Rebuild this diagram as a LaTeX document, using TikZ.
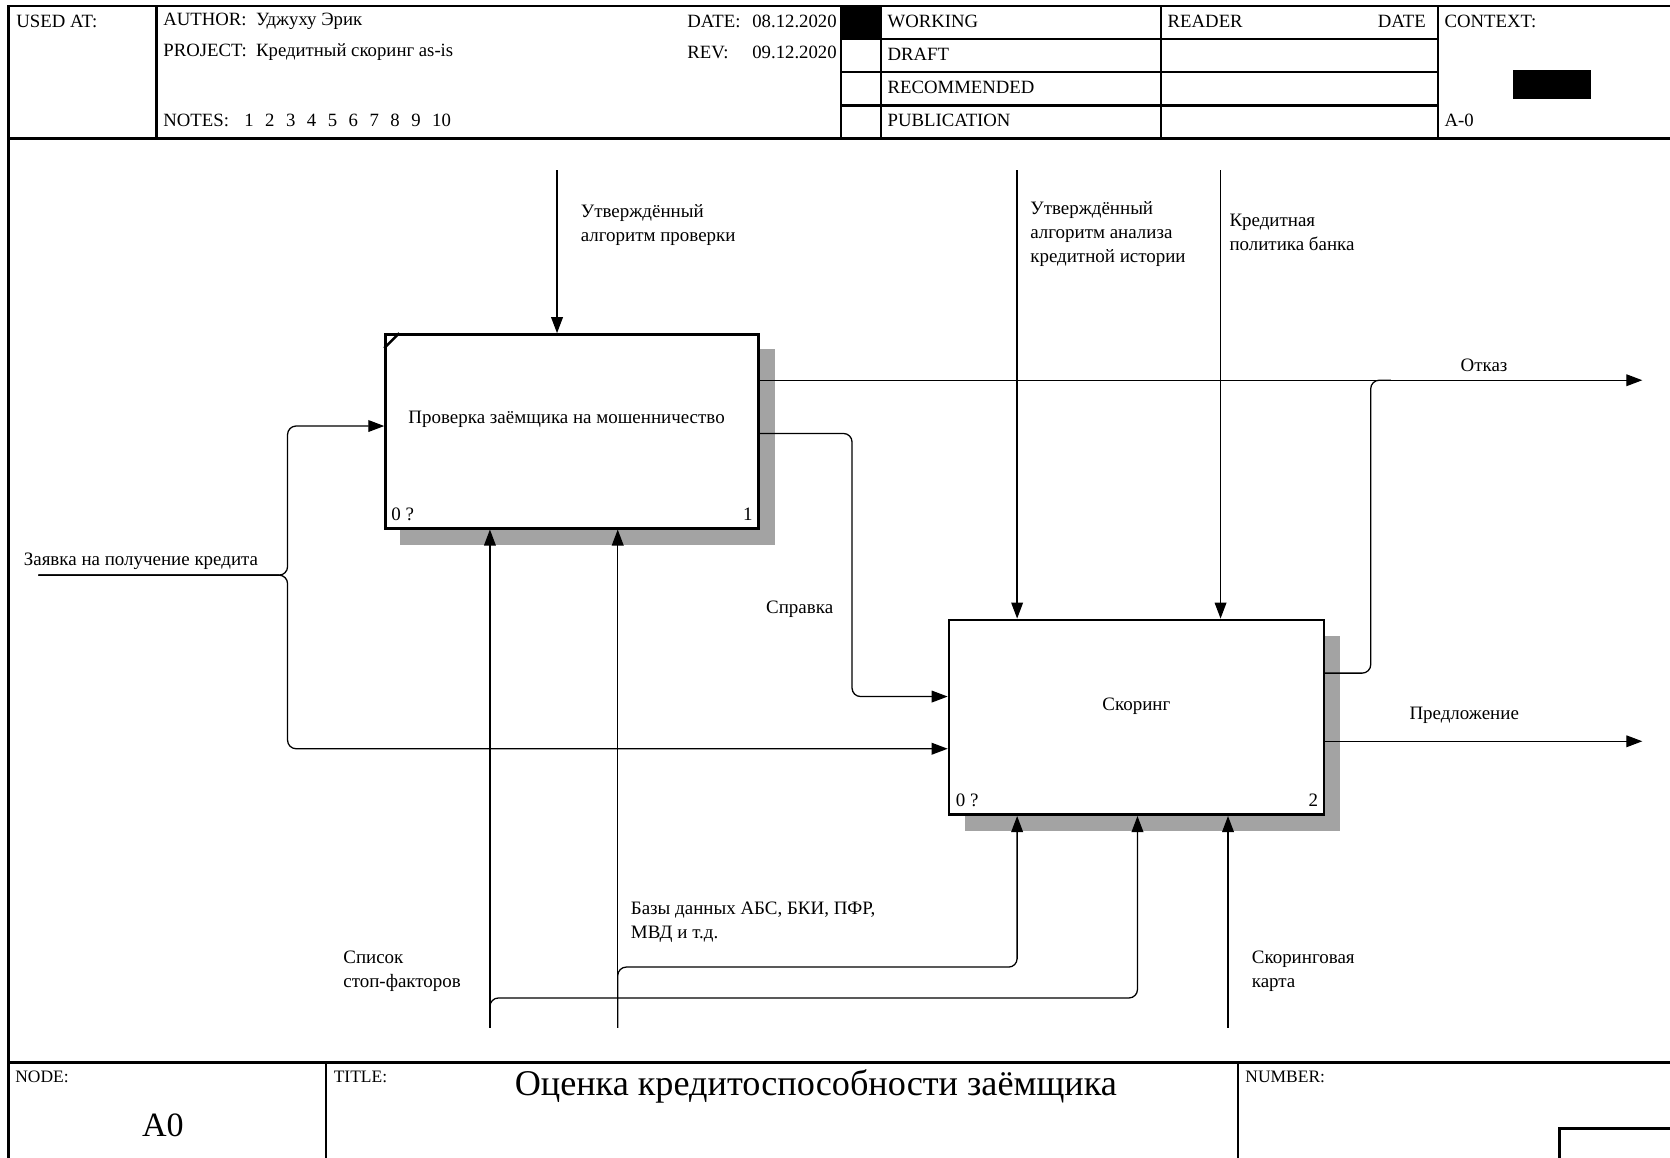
\documentclass[tikz,border=0pt]{standalone}
\usepackage{fontspec}
\setmainfont{Liberation Serif}
\usetikzlibrary{arrows.meta}

\begin{document}
\begin{tikzpicture}[x=0.5pt,y=-0.5pt,
  frameline/.style={line width=1pt},
  func/.style={draw, line width=1.2pt, fill=white, inner sep=0pt},
  shadowfill/.style={fill=black!36},
  flow/.style={line width=0.6pt, rounded corners=4pt},
  arr/.style={flow, -{Triangle[length=7.5pt,width=5.5pt]}},
  lbl/.style={font=\fontsize{8.9}{11.25}\selectfont, inner sep=0pt, align=left, anchor=west},
  hdr/.style={font=\fontsize{8.8}{10}\selectfont, inner sep=0pt, anchor=west},
  ftr/.style={font=\fontsize{8.2}{9}\selectfont, inner sep=0pt, anchor=west},
]
% page area
\useasboundingbox (0,0) rectangle (1568,1087);
\clip (0,0) rectangle (1568,1087);
\fill[white] (0,0) rectangle (1568,1087);

% ---------- outer frame and header grid ----------
\draw[frameline] (8,1095) -- (8,6) -- (1580,6);
\draw[frameline] (8,130) -- (1580,130);
\foreach \xx in {147,790,827,1090,1350} \draw[frameline] (\xx,6) -- (\xx,130);
\foreach \yy in {37,68,99} \draw[frameline] (790,\yy) -- (1350,\yy);
\fill (790,6) rectangle (827,37);
\fill (1421,66) rectangle (1494,93);

\node[hdr] (usedat) at (15,20) {USED AT:};
\node[hdr] (author) at (153,20) {AUTHOR:\ \ Уджуху Эрик};
\node[hdr] (project) at (153,49) {PROJECT:\ \ Кредитный скоринг as-is};
\node[hdr] (notes) at (153,113) {NOTES:};
\foreach \n [count=\i] in {1,2,3,4,5,6,7,8,9,10}
  \node[hdr] (note\i) at (229+19.6*\i-19.6,113) {\n};
\node[hdr] (datelbl) at (645,20) {DATE:};
\node[hdr] (dateval) at (706,20) {08.12.2020};
\node[hdr] (revlbl) at (645,49) {REV:};
\node[hdr] (revval) at (706,49) {09.12.2020};
\node[hdr] (working) at (833,20) {WORKING};
\node[hdr] (draft) at (833,51) {DRAFT};
\node[hdr] (recommended) at (833,82) {RECOMMENDED};
\node[hdr] (publication) at (833,113) {PUBLICATION};
\node[hdr] (reader) at (1096,20) {READER};
\node[hdr, anchor=east] (readerdate) at (1339,20) {DATE};
\node[hdr] (context) at (1356,20) {CONTEXT:};
\node[hdr] (ctxnode) at (1356,113) {A-0};

% ---------- footer ----------
\draw[line width=1.4pt] (8,998) -- (1580,998);
\draw[frameline] (306,998) -- (306,1095);
\draw[frameline] (1162,998) -- (1162,1095);
\draw[line width=1.4pt] (1464,1095) -- (1464,1060) -- (1580,1060);
\node[ftr] (nodelbl) at (14,1011) {NODE:};
\node[ftr] (titlelbl) at (313,1011) {TITLE:};
\node[ftr] (numberlbl) at (1169,1011) {NUMBER:};
\node[inner sep=0pt, font=\fontsize{16}{18}\selectfont] (nodeval) at (153,1057) {A0};
\node[inner sep=0pt, font=\fontsize{17}{20}\selectfont] (title) at (766,1020) {Оценка кредитоспособности заёмщика};

% ---------- activity boxes ----------
\fill[shadowfill] (376,328) rectangle (728,512);
\fill[shadowfill] (906,597) rectangle (1258,780);
\node[func, minimum width=175pt, minimum height=91pt] (p1) at (537,405) {};
\node[func, minimum width=176pt, minimum height=91.5pt] (p2) at (1067,673.5) {};
\draw[line width=1.2pt] ([yshift=-7pt]p1.north west) -- ([xshift=7pt]p1.north west);

\node[lbl, anchor=center] (p1txt) at (532,394) {Проверка заёмщика на мошенничество};
\node[lbl] (p1cost) at (367,483) {0 ?};
\node[lbl, anchor=east] (p1num) at (707,483) {1};
\node[lbl, anchor=center] (p2txt) at (1067,663) {Скоринг};
\node[lbl] (p2cost) at (897,751) {0 ?};
\node[lbl, anchor=east] (p2num) at (1238,751) {2};

% ---------- controls ----------
\coordinate (c1) at (523,160);
\coordinate (c2) at (955,160);
\coordinate (c3) at (1146,160);
\draw[arr] (c1) -- (c1 |- p1.north);
\draw[arr] (c2) -- (c2 |- p2.north);
\draw[arr] (c3) -- (c3 |- p2.north);
\node[lbl] (c1lbl) at (545,211) {Утверждённый\\алгоритм проверки};
\node[lbl] (c2lbl) at (967,220) {Утверждённый\\алгоритм анализа\\кредитной истории};
\node[lbl] (c3lbl) at (1154,218.5) {Кредитная\\политика банка};

% ---------- input ----------
\coordinate (in) at (36,540);
\coordinate (b1) at (270,400);
\coordinate (b2) at (270,703);
\draw[arr] (in) -| (b1) -- (b1 -| p1.west);
\draw[arr] (in) -| (b2) -- (b2 -| p2.west);
\node[lbl] (inlbl) at (22,527) {Заявка на получение кредита};

% ---------- outputs ----------
\coordinate (o1) at (1542,357);
\draw[arr] (p1.east |- o1) -- (o1);
\coordinate (o2) at (1287,632);
\coordinate (o2t) at (1306,357);
\draw[flow] (p2.east |- o2) -- (o2) -- (o2 |- o1) -- (o2t);
\node[lbl] (o1lbl) at (1371,343) {Отказ};

\coordinate (s1) at (800,407);
\coordinate (s2) at (800,654);
\draw[arr] (p1.east |- s1) -- (s1) -- (s2) -- (s2 -| p2.west);
\node[lbl] (s1lbl) at (719,572) {Справка};

\coordinate (o3) at (1542,696);
\draw[arr] (p2.east |- o3) -- (o3);
\node[lbl] (o3lbl) at (1323,672) {Предложение};

% ---------- mechanisms ----------
\coordinate (m1) at (460,965);
\coordinate (m2) at (580,965);
\coordinate (m3) at (1153,965);
\draw[arr] (m1) -- (m1 |- p1.south);
\draw[arr] (m2) -- (m2 |- p1.south);
\draw[arr] (m3) -- (m3 |- p2.south);
\coordinate (k1) at (580,908);
\coordinate (k2) at (955,908);
\draw[arr] (m2) -- (k1) -- (k2) -- (k2 |- p2.south);
\coordinate (k3) at (460,937);
\coordinate (k4) at (1068,937);
\draw[arr] (m1) -- (k3) -- (k4) -- (k4 |- p2.south);
\node[lbl] (m1lbl) at (322,912) {Список\\стоп-факторов};
\node[lbl] (m2lbl) at (592,865.5) {Базы данных АБС, БКИ, ПФР,\\МВД и т.д.};
\node[lbl] (m3lbl) at (1175,912) {Скоринговая\\карта};
\end{tikzpicture}
\end{document}
